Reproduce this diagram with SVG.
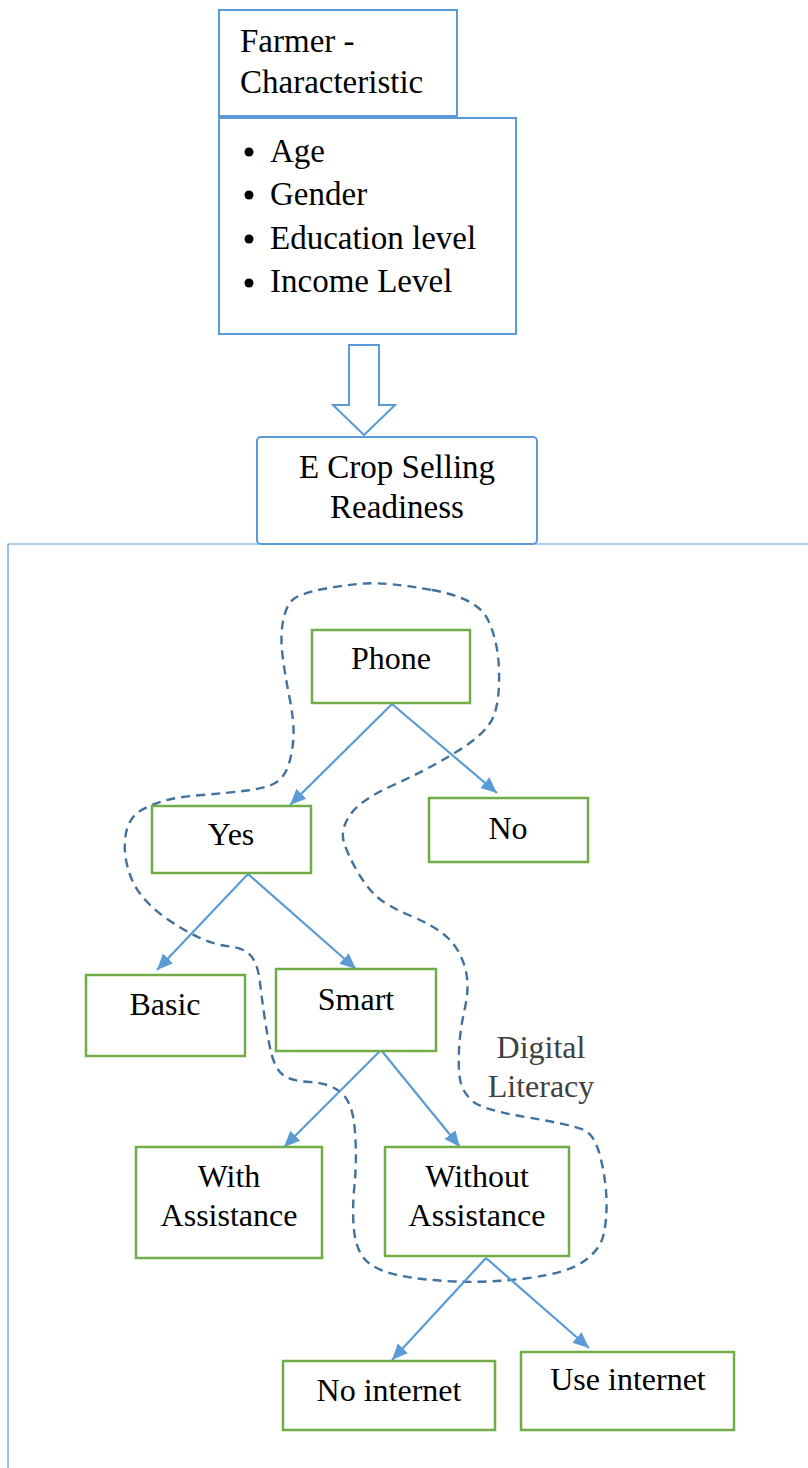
<svg xmlns="http://www.w3.org/2000/svg" width="808" height="1468" viewBox="0 0 808 1468">
<style>
.t{font-family:"Liberation Serif","DejaVu Serif","Times New Roman",serif;font-size:32px;fill:#000}
.tb{font-size:33px}
.g{font-family:"Liberation Serif","DejaVu Serif","Times New Roman",serif;font-size:32px;fill:#404040;text-anchor:middle}
.c{text-anchor:middle}
.bx{fill:#fff;stroke:#5B9BD5;stroke-width:2}
.gn{fill:#fff;stroke:#70AD47;stroke-width:2.5}
.ln{stroke:#5B9BD5;stroke-width:2.2;fill:none;marker-end:url(#ah)}
</style>
<defs>
<marker id="ah" markerUnits="userSpaceOnUse" markerWidth="18" markerHeight="16" refX="16" refY="8" orient="auto">
<path d="M0,1 L16,8 L0,15 Z" fill="#5B9BD5"/>
</marker>
</defs>
<rect width="808" height="1468" fill="#fff"/>
<path d="M8,1468 L8,544 L808,544" fill="none" stroke="#5B9BD5" stroke-width="1.2"/>
<g id="farmer">
<rect class="bx" x="219" y="10" width="238" height="106"/>
<text class="t tb" x="240" y="52">Farmer -</text>
<text class="t tb" x="240" y="93">Characteristic</text>
</g>
<g id="list">
<rect class="bx" x="219" y="118" width="297" height="216"/>
<circle cx="249" cy="152" r="4.5"/><circle cx="249" cy="195" r="4.5"/><circle cx="249" cy="239" r="4.5"/><circle cx="249" cy="283" r="4.5"/>
<text class="t tb" x="270" y="162">Age</text>
<text class="t tb" x="270" y="205">Gender</text>
<text class="t tb" x="270" y="249">Education level</text>
<text class="t tb" x="270" y="292">Income Level</text>
</g>
<g id="blockarrow">
<path d="M349,345 L379,345 L379,405 L395,405 L364,435 L333,405 L349,405 Z" fill="#fff" stroke="#5B9BD5" stroke-width="2"/>
</g>
<g id="ecrop">
<rect class="bx" x="257" y="437" width="280" height="107" rx="4"/>
<text class="t tb c" x="397" y="478">E Crop Selling</text>
<text class="t tb c" x="397" y="518">Readiness</text>
</g>
<g id="loop">
<path d="M 432,590 Q 477,598 487.5,619 Q 498,640 499,670 Q 500,700 493.5,716.5 Q 487,733 457,751.5 Q 427,770 393.5,785 Q 360,800 350,815 Q 340,830 344,842.5 Q 348,855 356.5,870 Q 365,885 375,895 Q 385,905 411,916 Q 437,927 448.5,938.5 Q 460,950 465,967.5 Q 470,985 465,1007.5 Q 460,1030 459,1050 Q 458,1070 460.5,1081.5 Q 463,1093 473,1101.5 Q 483,1110 528,1117.5 Q 573,1125 584,1130 Q 595,1135 600.5,1157.5 Q 606,1180 606.5,1200 Q 607,1220 603.5,1235 Q 600,1250 583.5,1261.5 Q 567,1273 528.5,1278 Q 490,1283 455,1281.5 Q 420,1280 397.5,1275 Q 375,1270 365.5,1260 Q 356,1250 354,1230 Q 352,1210 354.5,1185 Q 357,1160 355,1131.5 Q 353,1103 341.5,1093 Q 330,1083 310,1082 Q 290,1081 282.5,1074.5 Q 275,1068 271.5,1054 Q 268,1040 265,1020 Q 262,1000 260,982.5 Q 258,965 251.5,956.5 Q 245,948 230,946.5 Q 215,945 199,937.5 Q 183,930 166.5,918.5 Q 150,907 140,893.5 Q 130,880 126.5,862.5 Q 123,845 126.5,831 Q 130,817 140,811 Q 150,805 163.5,801 Q 177,797 202,795 Q 227,793 247,790.5 Q 267,788 276,782.5 Q 285,777 289,763.5 Q 293,750 293.5,735 Q 294,720 289.5,697.5 Q 285,675 282.5,655 Q 280,635 283.5,619 Q 287,603 295,598 Q 303,593 323,589 Q 343,585 365,583.5 Q 387,582 432,590 Z" fill="none" stroke="#41719C" stroke-width="2.4" stroke-dasharray="9,6"/>
<text class="g" x="541" y="1058">Digital</text>
<text class="g" x="541" y="1097">Literacy</text>
</g>
<g id="connectors">
<line class="ln" x1="392" y1="704" x2="290" y2="805"/>
<line class="ln" x1="392" y1="704" x2="497" y2="793"/>
<line class="ln" x1="248" y1="874" x2="157" y2="970"/>
<line class="ln" x1="248" y1="874" x2="356" y2="969"/>
<line class="ln" x1="381" y1="1050" x2="284" y2="1147"/>
<line class="ln" x1="381" y1="1050" x2="460" y2="1147"/>
<line class="ln" x1="486" y1="1258" x2="392" y2="1360"/>
<line class="ln" x1="486" y1="1258" x2="589" y2="1348"/>
</g>
<g id="phone"><rect class="gn" x="312" y="630" width="158" height="73"/><text class="t c" x="391" y="669">Phone</text></g>
<g id="yes"><rect class="gn" x="152" y="806" width="159" height="67"/><text class="t c" x="231" y="845">Yes</text></g>
<g id="no"><rect class="gn" x="429" y="798" width="159" height="64"/><text class="t c" x="508" y="839">No</text></g>
<g id="basic"><rect class="gn" x="86" y="975" width="159" height="81"/><text class="t c" x="165" y="1015">Basic</text></g>
<g id="smart"><rect class="gn" x="276" y="969" width="160" height="82"/><text class="t c" x="356" y="1010">Smart</text></g>
<g id="with"><rect class="gn" x="136" y="1147" width="186" height="111"/><text class="t c" x="229" y="1187">With</text><text class="t c" x="229" y="1226">Assistance</text></g>
<g id="without"><rect class="gn" x="385" y="1147" width="184" height="109"/><text class="t c" x="477" y="1187">Without</text><text class="t c" x="477" y="1226">Assistance</text></g>
<g id="nointernet"><rect class="gn" x="283" y="1361" width="212" height="69"/><text class="t c" x="389" y="1401">No internet</text></g>
<g id="useinternet"><rect class="gn" x="521" y="1352" width="213" height="78"/><text class="t c" x="628" y="1390">Use internet</text></g>
</svg>
